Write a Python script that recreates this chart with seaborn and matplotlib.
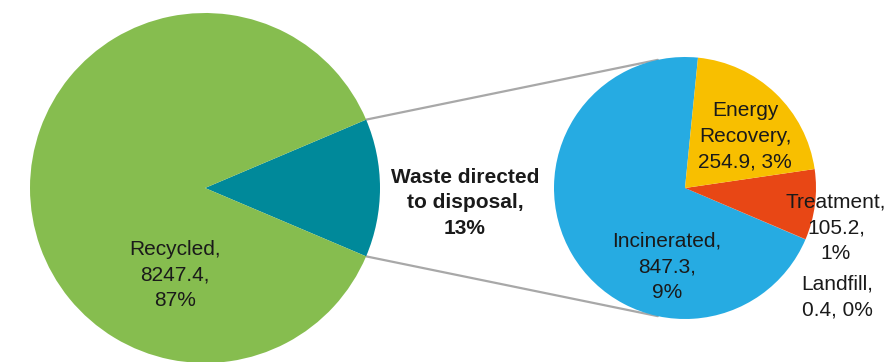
import numpy as np
import matplotlib
matplotlib.use("Agg")
import matplotlib.pyplot as plt
import seaborn as sns

# waste totals (tonnes)
recycled_label = "Recycled"
recycled_value = 8247.4
disposal_label = "Waste directed\nto disposal"

# breakdown of waste directed to disposal
disp_labels = ["Incinerated", "Landfill", "Treatment", "Energy\nRecovery"]
disp_values = [847.3, 0.4, 105.2, 254.9]

main_colors = ["#00899A", "#86BD4F"]
disp_colors = ["#26ABE2", "#8A8A8A", "#E84715", "#F8BF00"]

sns.set_theme(style="white")
plt.rcParams['font.family'] = ['Liberation Sans', 'DejaVu Sans']

disposal_value = sum(disp_values)
grand_total = recycled_value + disposal_value
pct = lambda v: f"{v / grand_total * 100:.0f}%"

W, H = 893, 362
fig = plt.figure(figsize=(W / 100, H / 100), dpi=100)
ax = fig.add_axes([0, 0, 1, 1])

# left pie: recycled vs disposal, disposal slice centred on the right
left_c, left_r = (205, H - 188), 175
span = disposal_value / grand_total * 360
wl, _ = ax.pie([disposal_value, recycled_value], colors=main_colors,
               startangle=-span / 2, center=left_c, radius=left_r,
               wedgeprops=dict(linewidth=0))

# right pie: breakdown
right_c, right_r = (685, H - 188), 131
wr, _ = ax.pie(disp_values, colors=disp_colors, startangle=84.3,
               center=right_c, radius=right_r, wedgeprops=dict(linewidth=0))

# connector lines
for th_l, th_r in [(wl[0].theta2, 102), (wl[0].theta1, 258)]:
    p1 = (left_c[0] + left_r * np.cos(np.radians(th_l)),
          left_c[1] + left_r * np.sin(np.radians(th_l)))
    p2 = (right_c[0] + right_r * np.cos(np.radians(th_r)),
          right_c[1] + right_r * np.sin(np.radians(th_r)))
    ax.plot([p1[0], p2[0]], [p1[1], p2[1]], color="#A8A8A8", lw=1.6, zorder=0)

txt = dict(ha="center", va="center", fontsize=15, color="#1A1A1A", linespacing=1.45)

ax.text(175, H - 275, f"{recycled_label},\n{recycled_value:g},\n{pct(recycled_value)}", **txt)
ax.text(465, H - 203, f"{disposal_label},\n{pct(disposal_value)}",
        fontweight="bold", **txt)

inc, lf, tr, er = disp_values
ax.text(667, H - 267, f"{disp_labels[0]},\n{inc:g},\n{pct(inc)}", **txt)
ax.text(745, H - 136, f"{disp_labels[3]},\n{er:g}, {pct(er)}", **txt)
ax.text(836, H - 228, f"{disp_labels[2]},\n{tr:g},\n{pct(tr)}", **txt)
ax.text(837, H - 297, f"{disp_labels[1]},\n{lf:g}, {pct(lf)}", **txt)

ax.set_xlim(0, W)
ax.set_ylim(0, H)
ax.set_aspect("equal")
ax.axis("off")

fig.savefig("out.png", dpi=100)
